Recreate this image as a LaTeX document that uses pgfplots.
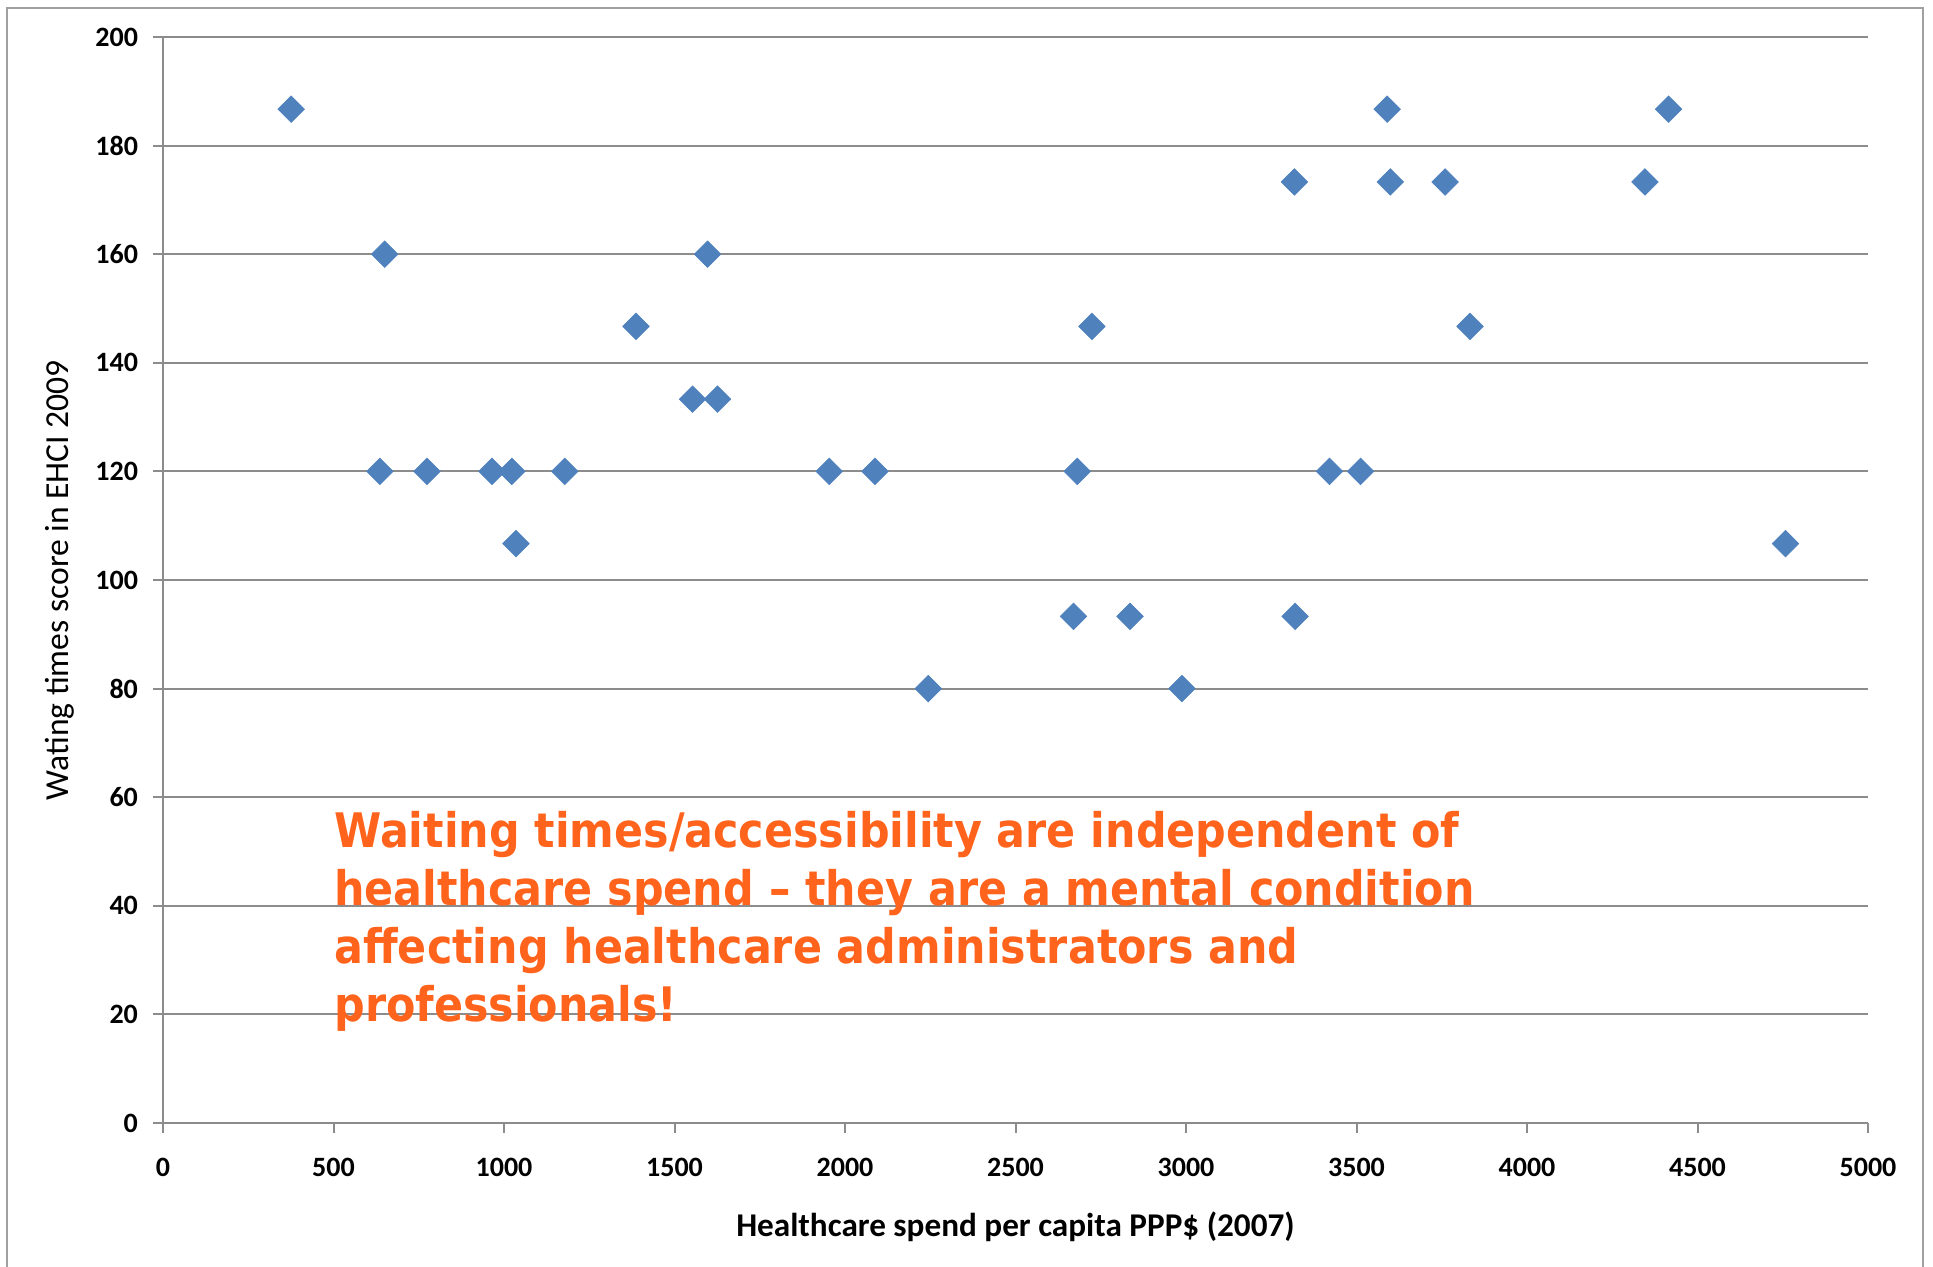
\documentclass[border=0pt]{standalone}
\usepackage{pgfplots}
\pgfplotsset{compat=1.18}
\usepackage{fontspec}
\setmainfont{Carlito}
\newfontfamily\tahoma{DejaVu Sans Condensed}
\definecolor{markblue}{RGB}{79,129,189}
\definecolor{orangetxt}{RGB}{255,99,28}
\definecolor{gridgray}{RGB}{140,140,140}
\definecolor{framegray}{RGB}{160,160,160}
\begin{document}
\begin{tikzpicture}[x=1pt,y=1pt]
\path[use as bounding box] (0,0) rectangle (966.5,633.5);
\draw[framegray, line width=1.3pt] (3.5,0) -- (3.5,629.5) -- (961.5,629.5) -- (961.5,0);
\begin{axis}[
  at={(81.5pt,72pt)}, anchor=south west,
  scale only axis, width=852.5pt, height=543pt,
  xmin=0, xmax=5000, ymin=0, ymax=200,
  xtick={0,500,...,5000}, ytick={0,20,...,200},
  axis lines*=left,
  axis line style={-, draw=gridgray, line width=1pt},
  ymajorgrids, major grid style={draw=gridgray, line width=1pt},
  tick align=outside, major tick length=5pt,
  tick style={draw=gridgray, line width=1pt},
  scaled ticks=false,
  /pgf/number format/assume math mode=true,
  /pgf/number format/set thousands separator={},
  ticklabel style={font=\bfseries\fontsize{14}{14}\selectfont},
  xticklabel style={anchor=center, yshift=-17pt},
  yticklabel style={xshift=-4pt},
  xlabel={\bfseries Healthcare spend per capita PPP\$ (2007)},
  xlabel style={at={(axis description cs:0.5,-0.0958)}, anchor=center, font=\fontsize{16.6}{16.6}\selectfont},
  ylabel={Wating times score in EHCI 2009},
  ylabel style={at={(axis description cs:-0.0605,0.5)}, anchor=center, font=\fontsize{16.8}{16.8}\selectfont},
]
\addplot[only marks, mark=square*, mark size=4.7pt,
  mark options={fill=markblue, draw=markblue, line width=0.3pt, rotate=45}]
  coordinates {
(376,186.7) (650,160) (636,120) (774,120) (965,120) (1023,120) (1035,106.7)
(1178,120) (1387,146.7) (1553,133.3) (1626,133.3) (1597,160) (1954,120)
(2088,120) (2244,80) (2670,93.3) (2681,120) (2724,146.7) (2836,93.3)
(2988,80) (3318,173.3) (3320,93.3) (3421,120) (3512,120) (3590,186.7)
(3599,173.3) (3760,173.3) (3833,146.7) (4346,173.3) (4415,186.7) (4758,106.7)
  };
\end{axis}
\node[anchor=base west, align=left, inner sep=0pt, text=orangetxt,
  font=\tahoma\bfseries\fontsize{23.8}{29}\selectfont] at (167,122.5)
  {Waiting times/accessibility are independent of\\
   healthcare spend – they are a mental condition\\
   affecting healthcare administrators and\\
   professionals!};
\end{tikzpicture}
\end{document}
